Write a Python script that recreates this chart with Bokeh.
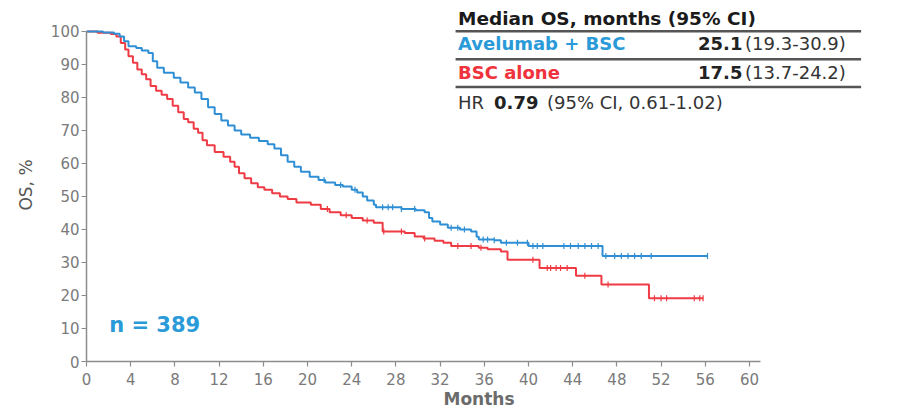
import numpy as np
from bokeh.plotting import figure
from bokeh.models import Range1d, Label
from bokeh.embed import file_html
from bokeh.resources import INLINE

# ---------------- data ----------------
ave_months = [0, 1.5, 2.5, 3.0, 3.4, 3.8, 4.5, 5.0, 5.6, 6.0, 6.4, 7.0, 7.9, 8.5, 9.2, 9.8,
              10.4, 11.0, 11.6, 12.2, 12.8, 13.4, 14.0, 14.8, 15.6, 16.4, 17.0, 17.6, 18.2,
              18.8, 19.4, 20.2, 21.0, 21.6, 22.5, 23.2, 24.0, 24.5, 25.0, 25.4, 26.0, 26.2,
              28.5, 29.8, 30.6, 31.0, 31.3, 32.0, 32.7, 33.8, 34.8, 35.3, 35.5, 36.9, 37.5,
              40.0, 46.7, 56.2]
ave_os = [100, 99.7, 99.3, 98.5, 97, 95.5, 95, 94.2, 93.5, 91, 89, 87.5, 86, 84.5, 83, 81.5,
          79.5, 77, 75, 73, 71.5, 70, 68.8, 67.8, 66.8, 65.8, 64.5, 62.5, 60.5,
          59, 57.5, 56, 55, 54.2, 53.5, 53, 52, 51.2, 50, 48.8, 47.5, 46.7,
          46.2, 45.8, 45.2, 43.5, 42.4, 41.5, 40.5, 40, 39.4, 37.8, 37, 36.7, 36,
          35, 32, 32]

bsc_months = [0, 1.0, 2.2, 2.7, 3.1, 3.5, 3.8, 4.2, 4.6, 5.0, 5.4, 5.8, 6.3, 6.8, 7.3, 7.8,
              8.3, 8.8, 9.2, 9.7, 10.1, 10.5, 10.9, 11.6, 12.4, 13.0, 13.4, 13.8, 14.3, 14.9,
              15.5, 16.1, 16.8, 17.5, 18.2, 19.0, 20.3, 21.2, 22.0, 23.0, 24.0, 25.0, 26.0,
              26.8, 28.8, 29.7, 30.5, 31.5, 32.3, 33.0, 35.5, 36.3, 37.5, 38.1, 41.0, 44.3,
              46.6, 50.9, 55.8]
bsc_os = [100, 99.6, 99.2, 98.5, 96.5, 94.5, 92.5, 90.5, 88.5, 87, 85.5, 83.5, 82, 80.8, 79.5,
          77.5, 75.5, 73.5, 72.5, 70.5, 69.3, 67, 65.5, 63.5, 62, 60.5, 59, 57, 55.5, 54,
          52.8, 52, 51, 50, 49.2, 48.2, 47.5, 46.2, 45.2, 44.3, 43.5, 42.7, 42,
          39.4, 38.9, 37.9, 37.3, 36.6, 36, 35, 34.5, 34, 33.3, 30.8, 28.3, 26,
          23.3, 19.2, 19.2]

ave_censor = [21.5, 23.0, 24.3, 26.8, 27.3, 27.7, 28.5, 29.7, 33.0, 33.6, 34.2, 35.9, 36.3,
              36.9, 38.0, 39.0, 39.9, 40.4, 40.8, 41.3, 43.2, 43.8, 44.5, 45.1, 45.7, 46.3,
              47.0, 47.8, 48.4, 49.0, 49.6, 50.2, 51.1, 56.2]
bsc_censor = [21.8, 23.5, 25.4, 26.9, 28.5, 30.6, 33.6, 34.8, 35.7, 40.4, 41.7, 42.0, 42.5,
              42.9, 43.5, 45.1, 47.2, 51.4, 52.0, 52.5, 55.0, 55.5, 55.8]

x_ticks = list(range(0, 61, 4))
y_ticks = list(range(0, 101, 10))

arm_labels = ["Avelumab  +  BSC", "BSC alone"]
median_os = ["25.1", "17.5"]
median_ci = ["(19.3-30.9)", "(13.7-24.2)"]
hr_value = "0.79"
hr_ci = "(95% CI, 0.61-1.02)"
n_total = "n = 389"

BLUE = "#2f8fd5"
RED = "#ef3b44"
FONT = "DejaVu Sans"


def surv_at(times, vals, t):
    idx = np.searchsorted(np.asarray(times), t, side="right") - 1
    return np.asarray(vals)[idx]


p = figure(width=885, height=411, x_range=Range1d(0, 71.04), y_range=Range1d(0, 106.95),
           output_backend="svg", toolbar_location=None,
           min_border_left=86, min_border_right=14, min_border_top=8, min_border_bottom=49)
p.outline_line_color = None
p.xgrid.grid_line_color = None
p.ygrid.grid_line_color = None
p.background_fill_color = "white"

for ax in (p.xaxis[0], p.yaxis[0]):
    ax.axis_line_color = "#8c8c8c"
    ax.axis_line_width = 1.5
    ax.major_tick_line_color = "#8c8c8c"
    ax.major_tick_line_width = 1.2
    ax.major_tick_out = 5
    ax.major_tick_in = 0
    ax.minor_tick_line_color = None
    ax.major_label_text_font = FONT
    ax.major_label_text_font_size = "15px"
    ax.major_label_text_color = "#7a7a7a"
    ax.axis_label_text_font = FONT

p.xaxis.ticker = x_ticks
p.yaxis.ticker = y_ticks
p.xaxis.bounds = (0, 61)
p.yaxis.bounds = (0, 100)
p.xaxis.major_label_standoff = 6
p.yaxis.major_label_standoff = 2
p.xaxis.axis_label = "Months"
p.xaxis.axis_label_text_font_size = "17px"
p.xaxis.axis_label_text_font_style = "bold"
p.xaxis.axis_label_text_color = "#6b6b6b"
p.xaxis.axis_label_standoff = 1
p.yaxis.axis_label = "OS, %"
p.yaxis.axis_label_text_font_size = "17px"
p.yaxis.axis_label_text_font_style = "normal"
p.yaxis.axis_label_text_color = "#555555"
p.yaxis.axis_label_standoff = 12

# curves
p.step(bsc_months, bsc_os, mode="after", line_color=RED, line_width=2)
p.step(ave_months, ave_os, mode="after", line_color=BLUE, line_width=2)

# censor marks
p.scatter(bsc_censor, surv_at(bsc_months, bsc_os, bsc_censor), marker="dash", angle=np.pi / 2,
          size=6, line_color=RED, line_width=1.2)
p.scatter(ave_censor, surv_at(ave_months, ave_os, ave_censor), marker="dash", angle=np.pi / 2,
          size=6, line_color=BLUE, line_width=1.2)

# n label
p.add_layout(Label(x=2.05, y=11.2, text=n_total, text_font=FONT, text_font_size="21px",
                   text_font_style="bold", text_color="#2a9ad8", text_baseline="middle"))

# table
TX = 33.62
rules_y = [100.06, 91.6, 83.2]
p.segment(x0=[33.4] * 3, y0=rules_y, x1=[70.1] * 3, y1=rules_y, line_color="#555555",
          line_width=2.5)


def lab(x, y, text, bold=False, color="#222222", size="18px"):
    p.add_layout(Label(x=x, y=y, text=text, text_font=FONT, text_font_size=size,
                       text_font_style="bold" if bold else "normal", text_color=color,
                       text_baseline="middle", text_align="left"))


lab(TX, 103.9, "Median  OS,  months  (95%  CI)", bold=True, color="#1a1a1a", size="18.5px")
lab(TX, 96.2, arm_labels[0], bold=True, color="#2a9ad8")
lab(55.34, 96.2, median_os[0], bold=True)
lab(59.6, 96.2, median_ci[0], color="#333333")
lab(TX, 87.7, arm_labels[1], bold=True, color="#f0323c")
lab(55.34, 87.7, median_os[1], bold=True)
lab(59.6, 87.7, median_ci[1], color="#333333")
lab(TX, 78.6, "HR", color="#333333")
lab(36.88, 78.6, hr_value, bold=True)
lab(41.67, 78.6, hr_ci, color="#333333")

open("out.html", "w").write(file_html(p, INLINE))
